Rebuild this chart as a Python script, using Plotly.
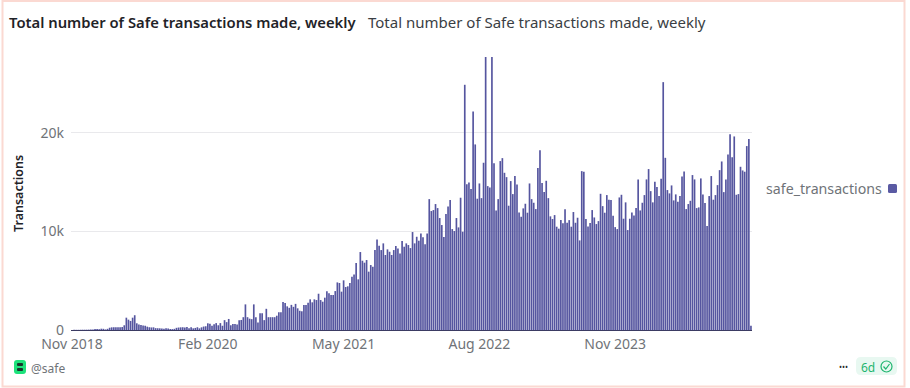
import pandas as pd
import plotly.graph_objects as go

W, H = 910, 388

# Weekly totals
early_transactions = [
    10, 15, 20, 20, 25, 30, 30, 35, 40, 40, 50, 90, 110, 80, 130, 120, 60, 120,
    230, 270, 280, 290, 280, 290, 300, 480, 1250, 1050, 920, 1250, 1500, 680, 560, 500,
    460, 430, 340, 280, 260, 270, 190, 180, 170, 160, 130, 170, 160, 100, 90, 120,
    220, 250, 270, 280, 260, 300, 190, 270, 170, 210, 280, 170, 270, 350, 380, 680,
    640, 420, 580, 700, 480, 700, 430, 1000, 800, 1120, 480, 620, 600, 570, 1000, 1020,
    1300, 2600, 1300, 1150, 1100, 2600, 1300, 750, 1700, 1700, 1000, 2150, 1300, 1300,
    1300, 1300, 1450, 1800, 1800, 2850, 2750, 2400, 2250, 2550, 2350, 2650, 2200, 1950, 1900,
]
middle_transactions = [
    2540, 2540, 2770, 3110, 2810, 3110, 3040, 3680, 3040, 2870, 3280, 3920, 3720, 3550, 3550,
    3950, 4830, 4770, 3890, 5040, 4360, 4430, 4770, 5410, 5640, 6790, 5140, 7910, 7030, 6830,
    7100, 5920, 6590, 6420, 8110, 9190, 8550, 8110, 8790, 7610, 8180, 7940, 7610, 8110, 8520,
    8280, 7770, 9020, 8450, 8790, 8620, 8310, 9940, 8790, 9460, 9060, 9800, 9400, 8690, 9800,
    13280, 12070, 12170, 12780, 12370, 11360, 10650, 9430, 11760, 12540, 13180, 10240, 10040,
    11360, 10410, 13420, 9970, 24880, 14800, 14970, 14300, 22170, 18830, 13320, 14870, 13380,
    16970, 29500, 14600, 14470, 29500, 16930, 12130, 13280, 17140, 17440, 15950, 15510, 12610,
    15110, 13790, 15620, 14770, 11930, 11490, 12340, 12810, 11900, 14870,
]
late_transactions = [
    13280, 12910, 12270, 16430, 18250, 14910, 13990, 15140, 13380, 11530, 11260, 11660, 10480,
    10280, 11150, 10820, 12240, 10880, 11150, 10480, 11970, 10880, 11390, 9090, 16120, 16060,
    11260, 10510, 10850, 12170, 11420, 10750, 11050, 13820, 12570, 11900, 13690, 13220, 13180,
    11590, 10440, 10240, 13450, 13720, 11290, 12950, 10140, 11290, 11930, 11630, 12370, 15280,
    12130, 12910, 13690, 15280, 16330, 14090, 12950, 15040, 14500, 13590, 15350, 25150, 17470,
    14200, 13860, 14670, 13150, 13760, 13010, 13590, 15580, 16090, 12270, 12780, 13110, 15720,
    15280, 12370, 12440, 15380, 13760, 12880, 10550, 13590, 15620, 13220, 13690, 14700, 16220,
    17100, 13990, 15280, 17810, 19870, 17540, 19640, 13720, 13790, 16560, 16190, 16060, 18660,
    19370, 440,
]
safe_transactions = early_transactions + middle_transactions + late_transactions
weeks = pd.date_range("2018-11-12", periods=len(safe_transactions), freq="7D")
x_tick_dates = ["2018-11-12", "2020-02-10", "2021-05-10", "2022-08-08", "2023-11-06"]
x_tick_labels = ["Nov 2018", "Feb 2020", "May 2021", "Aug 2022", "Nov 2023"]
y_tick_values = [0, 10000, 20000]
y_tick_labels = ["0", "10k", "20k"]
chart_title = "Total number of Safe transactions made, weekly"


def px(x):
    return x / W


def py(y):
    return 1 - y / H


FONT = "Noto Sans"
BAR = "#5a5aa3"
GREY = "#6f7378"

half_week = pd.Timedelta(days=3.5)
fig = go.Figure(
    go.Bar(x=weeks, y=safe_transactions, name="safe_transactions",
           marker=dict(color="rgba(82,82,157,0.98)", line_width=0), width=0.8 * 7 * 86400000)
)


def text(x, y, s, size=14, color=GREY, anchor="left", weight=400, angle=0):
    fig.add_annotation(xref="paper", yref="paper", x=px(x), y=py(y), text=s, showarrow=False,
                       xanchor=anchor, yanchor="middle", textangle=angle,
                       font=dict(family=FONT, size=size, color=color, weight=weight))


def box(x0, y0, x1, y1, **kw):
    fig.add_shape(type="rect", xref="paper", yref="paper", x0=px(x0), x1=px(x1),
                  y0=py(y0), y1=py(y1), **kw)


def rounded(x0, y0, x1, y1, r, fill, line=None):
    p = (f"M{px(x0 + r)},{py(y0)} L{px(x1 - r)},{py(y0)} Q{px(x1)},{py(y0)} {px(x1)},{py(y0 + r)} "
         f"L{px(x1)},{py(y1 - r)} Q{px(x1)},{py(y1)} {px(x1 - r)},{py(y1)} "
         f"L{px(x0 + r)},{py(y1)} Q{px(x0)},{py(y1)} {px(x0)},{py(y1 - r)} "
         f"L{px(x0)},{py(y0 + r)} Q{px(x0)},{py(y0)} {px(x0 + r)},{py(y0)} Z")
    fig.add_shape(type="path", xref="paper", yref="paper", path=p, fillcolor=fill,
                  line=dict(width=0 if line is None else 1, color=line or fill))


# Card border
box(2.5, 1, 904.5, 386.5, line=dict(color="#fbd9d2", width=2), fillcolor="rgba(0,0,0,0)", layer="below")

# Titles
text(7, 22, chart_title, size=14.8, color="#1f2328", weight=600)
text(366, 22, chart_title, size=15, color="#3a3e44")

# Legend
text(764, 188.5, "safe_transactions", size=14.2, color=GREY)
rounded(888, 184, 897, 193, 1.5, BAR)

# Axis title
text(18, 194, "Transactions", size=12.5, color="#1f2328", anchor="center", weight=600, angle=-90)

# Footer
rounded(14, 360, 26, 374, 3, "#1de27b")
rounded(17, 363, 23, 366, 1, "#17352a")
rounded(17, 368, 23, 371, 1, "#17352a")
text(29, 368, "@safe", size=12, color=GREY)
text(843, 366, "•••", size=8, color="#2b2b2b", anchor="center")
rounded(856, 357, 897, 375, 5, "#e8f8f1")
text(859, 367, "6d", size=12, color="#1fb56f")
fig.add_shape(type="circle", xref="paper", yref="paper", x0=px(881), x1=px(892), y0=py(361), y1=py(372),
              line=dict(color="#1fb56f", width=1.2), fillcolor="rgba(0,0,0,0)")
fig.add_shape(type="path", xref="paper", yref="paper",
              path=f"M{px(883.5)},{py(366.5)} L{px(885.8)},{py(369)} L{px(889.5)},{py(364)}",
              line=dict(color="#1fb56f", width=1.2))

fig.update_layout(
    width=W, height=H, autosize=False,
    margin=dict(l=0, r=0, t=0, b=0, pad=0),
    paper_bgcolor="white", plot_bgcolor="white",
    showlegend=False, bargap=0.25,
    font=dict(family=FONT, size=14, color=GREY),
    xaxis=dict(
        domain=[px(71), px(752)], type="date", automargin=False,
        range=[weeks[0] - half_week, weeks[-1] + half_week],
        tickvals=x_tick_dates, ticktext=x_tick_labels, ticks="", showgrid=False,
        showline=True, linecolor="#3b3b63", linewidth=1, zeroline=False,
        ticklabelstandoff=1,
        tickfont=dict(size=14, color=GREY),
    ),
    yaxis=dict(
        domain=[py(330), py(57)], range=[0, 27700], tickvals=y_tick_values, ticktext=y_tick_labels,
        automargin=False, ticklabelstandoff=6,
        gridcolor="#e9e9ec", gridwidth=1, zeroline=False, showline=False, ticks="",
        tickfont=dict(size=14, color=GREY),
    ),
)

fig.write_html("out.html", config={"displayModeBar": False}, post_script="document.body.style.margin='0';")
